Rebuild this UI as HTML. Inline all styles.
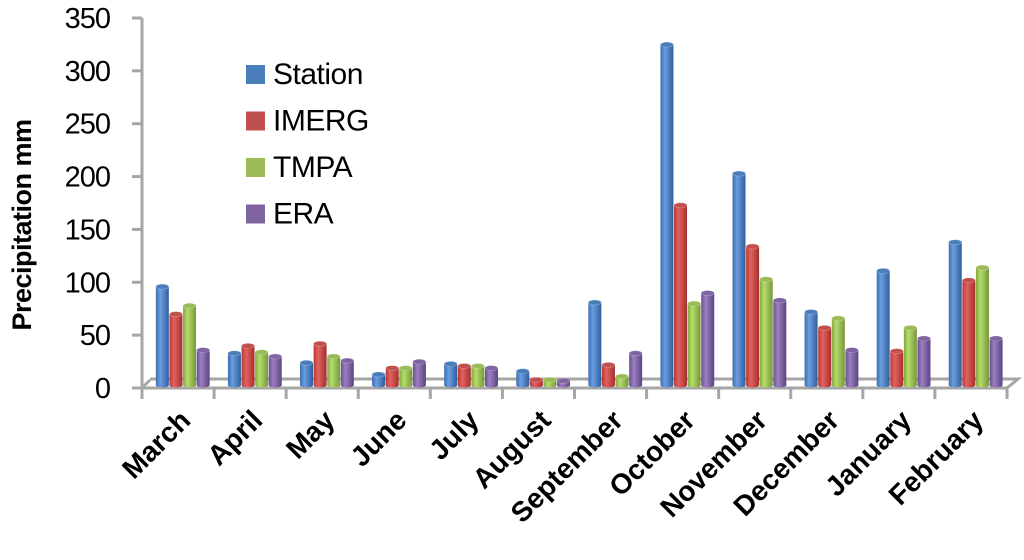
<!DOCTYPE html>
<html><head><meta charset="utf-8"><style>
body{margin:0;background:#fff;}
svg text{font-family:"Liberation Sans",sans-serif;}
</style></head><body>
<svg id="chart" width="1024" height="555" xmlns="http://www.w3.org/2000/svg">
<defs>
<linearGradient id="g0" x1="0" x2="1"><stop offset="0" stop-color="#3a6fb0"/><stop offset="0.35" stop-color="#6c9de0"/><stop offset="1" stop-color="#2f5e9c"/></linearGradient>
<linearGradient id="g1" x1="0" x2="1"><stop offset="0" stop-color="#b53a37"/><stop offset="0.35" stop-color="#e3625f"/><stop offset="1" stop-color="#a2302d"/></linearGradient>
<linearGradient id="g2" x1="0" x2="1"><stop offset="0" stop-color="#84a83f"/><stop offset="0.35" stop-color="#b5dc6c"/><stop offset="1" stop-color="#76973a"/></linearGradient>
<linearGradient id="g3" x1="0" x2="1"><stop offset="0" stop-color="#6b4f90"/><stop offset="0.35" stop-color="#9c7fc2"/><stop offset="1" stop-color="#5c4380"/></linearGradient>
</defs>
<g id="axes"></g>
<g id="bars"></g>
<g id="legend"></g>
</svg>
<script>
const categories=["March","April","May","June","July","August","September","October","November","December","January","February"];
const seriesNames=["Station","IMERG","TMPA","ERA"];
const station=[93,30,21,10,20,13,78,322,200,69,108,135];
const imerg=[67,37,39,16,18,5,19,170,131,54,32,99];
const tmpa=[75,31,27,16,18,5,8,77,100,63,54,111];
const era=[33,27,23,22,16,4,30,87,80,33,44,44];
const yTicks=[0,50,100,150,200,250,300,350];
const series=[station,imerg,tmpa,era];
const colors=["#4a7ebb","#c0504d","#9bbb59","#8064a2"];
const NS="http://www.w3.org/2000/svg";
function mk(tag,attrs,parent){const e=document.createElementNS(NS,tag);for(const k in attrs)e.setAttribute(k,attrs[k]);parent.appendChild(e);return e;}
const x0=142,x1=1007,yZero=388,yTop=18,yMax=350;
const y=v=>yZero-(v/yMax)*(yZero-yTop);
const band=(x1-x0)/categories.length;
const xc=i=>x0+band*(i+0.5);
const axes=document.getElementById('axes');
const yl=mk('path',{d:`M${x0} ${yTop} L${x0} ${yZero} M${x0} ${yZero} L${x0+8} ${yZero-8}`,stroke:'#a6a6a6','stroke-width':3,fill:'none'},axes);

const fl=mk('path',{d:`M${x0} ${yZero} L${x1} ${yZero} L${x1+11} ${yZero-9} L${x0+8} ${yZero-9}`,stroke:'#a6a6a6','stroke-width':3,fill:'none'},axes);

yTicks.forEach(t=>{
  const ln=mk('line',{x1:x0-10,x2:x0,y1:y(t),y2:y(t),stroke:'#a6a6a6','stroke-width':3},axes);
  
  const tx=mk('text',{x:110,y:y(t)+10,'text-anchor':'end','font-size':29,'letter-spacing':-1,fill:'#000'},axes);
  tx.textContent=t;
  
});
for(let i=0;i<=categories.length;i++){
  const xx=x0+band*i;
  const ln=mk('line',{x1:xx,x2:xx,y1:yZero,y2:yZero+11,stroke:'#a6a6a6','stroke-width':3},axes);
  
}
categories.forEach((c,i)=>{
  const cx=xc(i)+14,cy=422;
  const tx=mk('text',{x:cx,y:cy,'text-anchor':'end','font-size':28,'font-weight':'bold',transform:`rotate(-45 ${cx} ${cy})`},axes);
  tx.textContent=c;
  
});
const yt=mk('text',{x:0,y:0,'text-anchor':'middle','font-size':27,'font-weight':'bold','letter-spacing':-0.5,transform:'translate(31 225) rotate(-90)'},axes);
yt.textContent='Precipitation mm';

const bars=document.getElementById('bars');
const bw=13,gap=0.6;
series.forEach((s,si)=>{
  s.forEach((v,i)=>{
    const left=xc(i)-2*(bw+gap)+5+si*(bw+gap);
    const top=y(v)-3,bot=yZero-3;
    const g=mk('g',{},bars);
    
    
    mk('rect',{x:left,y:top,width:bw,height:Math.max(0,bot-top),fill:`url(#g${si})`},g);
    mk('ellipse',{cx:left+bw/2,cy:bot,rx:bw/2,ry:2.5,fill:`url(#g${si})`},g);
    mk('ellipse',{cx:left+bw/2,cy:top,rx:bw/2,ry:2.5,fill:colors[si],stroke:'#ffffff','stroke-opacity':0.3,'stroke-width':0.6},g);
  });
});
const leg=document.getElementById('legend');
seriesNames.forEach((n,si)=>{
  const yy=74+si*46.5;
  const g=mk('g',{},leg);
  
  
  mk('rect',{x:246,y:yy-9,width:19,height:19,fill:colors[si]},g);
  const t=mk('text',{x:273,y:yy+10,'font-size':30,'letter-spacing':-0.5},g);
  t.textContent=n;
});
</script>
</body></html>
